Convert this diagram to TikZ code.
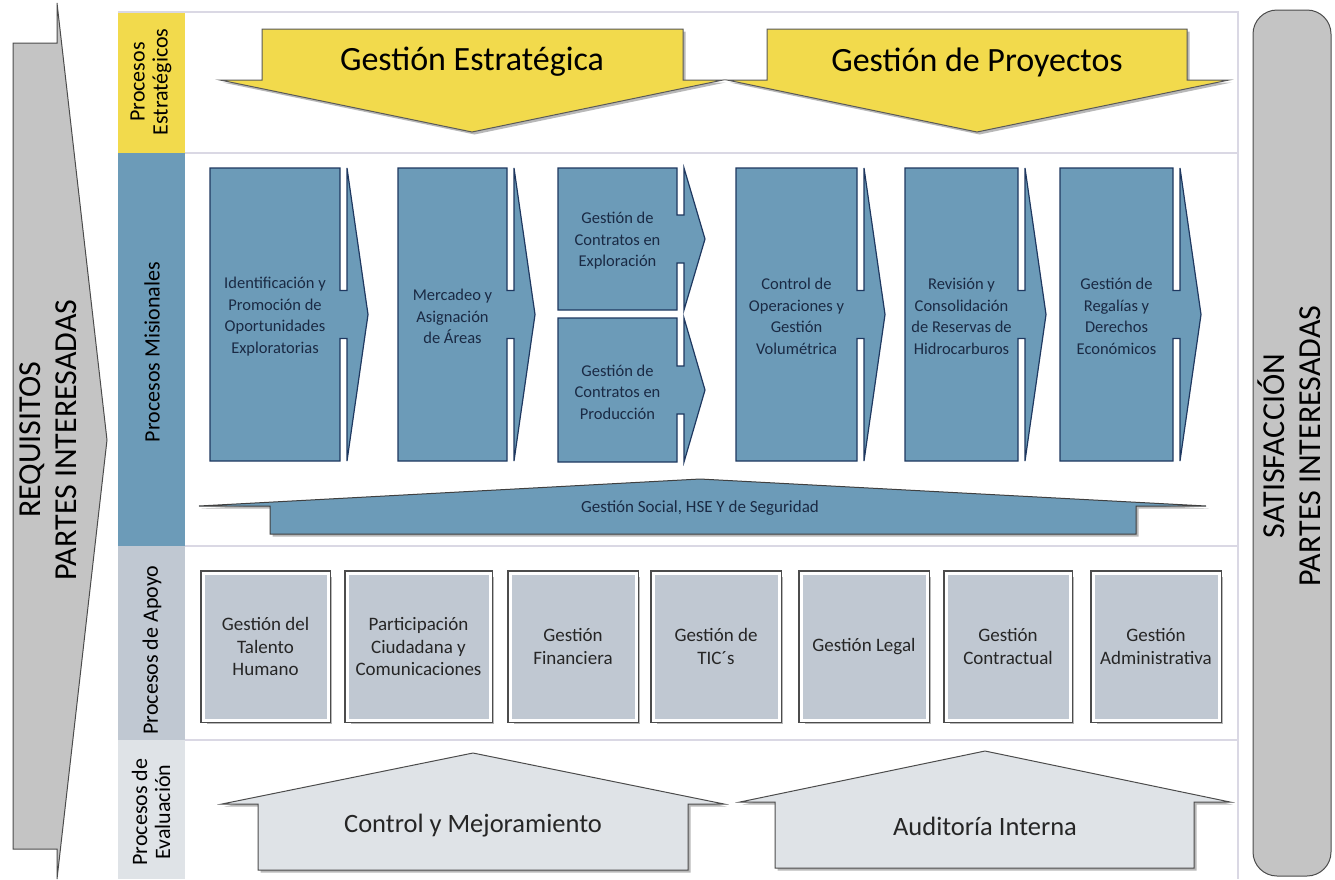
\documentclass[tikz,border=0pt]{standalone}
\usepackage{fontspec}
\setmainfont{Carlito}

\definecolor{estraYellow}{RGB}{242,218,76}
\definecolor{misionBlue}{RGB}{108,155,184}
\definecolor{misionLine}{RGB}{31,56,96}
\definecolor{misionText}{RGB}{26,42,68}
\definecolor{apoyoGray}{RGB}{192,200,210}
\definecolor{evalGray}{RGB}{223,227,231}
\definecolor{laneLine}{RGB}{218,216,228}
\definecolor{sideGray}{RGB}{196,196,196}

% name, left x, right x, top y, bottom y, text
\newcommand{\misarrow}[6]{%
  \draw[mision box] (#2,#4) -- (#3,#4) -- (#3,{(#4+#5)/2-24}) -- ({#3+7},{(#4+#5)/2-24})
    -- ({#3+7},#4) -- ({#3+28},{(#4+#5)/2}) -- ({#3+7},#5) -- ({#3+7},{(#4+#5)/2+24})
    -- (#3,{(#4+#5)/2+24}) -- (#3,#5) -- (#2,#5) -- cycle;
  \node[mision text] (#1) at ({(#2+#3)/2},{(#4+#5)/2+2}) {#6};
}

\begin{document}
\begin{tikzpicture}[x=1pt,y=-1pt,
	soft shade/.style={preaction={fill=black, opacity=.28, transform canvas={xshift=#1, yshift=-#1}}},
	lane label/.style={rotate=90, align=center, font=\fontsize{22}{23}\selectfont},
	side text/.style={rotate=90, align=center, font=\fontsize{32}{36}\selectfont},
	side shape/.style={fill=sideGray, draw=black!70, line width=1pt},
	estra arrow/.style={soft shade=2.5pt, fill=estraYellow, draw=black!65, line width=1pt},
	estra text/.style={font=\fontsize{34}{40}\selectfont},
	mision box/.style={fill=misionBlue, draw=misionLine, line width=1.2pt, line join=miter},
	mision text/.style={align=center, text=misionText, font=\fontsize{16.5}{21.5}\selectfont},
	social arrow/.style={soft shade=2.5pt, fill=misionBlue, draw=black!75, line width=1pt},
	apoyo box/.style={soft shade=4pt, preaction={draw=black!70, line width=6pt},
		fill=apoyoGray, draw=white, line width=3pt, inner sep=0pt,
		align=center, text=black!85, font=\fontsize{19}{22.5}\selectfont},
	eval arrow/.style={soft shade=2.5pt, fill=evalGray, draw=black!70, line width=1pt},
	eval text/.style={font=\fontsize{26.5}{30}\selectfont, text=black!85}]

	\useasboundingbox (0,0) rectangle (1335,879);

	% side arrows
	\draw[side shape] (13,43) -- (57,43) -- (57,3) -- (107,440) -- (57,879) -- (57,849) -- (13,849) -- cycle;
	\node[side text] (req) at (48,440) {REQUISITOS\\PARTES INTERESADAS};
	\draw[side shape, rounded corners=24pt] (1253,10) rectangle (1331,876);
	\node[side text] (sat) at (1289,446) {SATISFACCIÓN\\PARTES INTERESADAS};

	% lanes
	\fill[estraYellow] (118,12) rectangle (185,153);
	\fill[misionBlue] (118,153) rectangle (185,546);
	\fill[apoyoGray] (118,546) rectangle (185,740);
	\fill[evalGray] (118,740) rectangle (185,879);
	\draw[laneLine, line width=1.5pt] (118,12) -- (1238,12) -- (1238,879);
	\draw[laneLine, line width=1.5pt] (185,153) -- (1238,153) (185,546) -- (1238,546) (185,740) -- (1238,740);
	\node[lane label] (lEst) at (151,82) {Procesos\\Estratégicos};
	\node[lane label] (lMis) at (152,352) {Procesos Misionales};
	\node[lane label] (lApo) at (152,650) {Procesos de Apoyo};
	\node[lane label] (lEva) at (151,812) {Procesos de\\Evaluación};

	% estrategicos
	\draw[estra arrow] (262,29) -- (683,29) -- (683,80) -- (723,80) -- (472,132) -- (220,80) -- (262,80) -- cycle;
	\node[estra text] (gest) at (472,62) {Gestión Estratégica};
	\draw[estra arrow] (767,29) -- (1187,29) -- (1187,80) -- (1229,80) -- (977,132) -- (727,80) -- (767,80) -- cycle;
	\node[estra text] (gpro) at (977,62) {Gestión de Proyectos};

	% misionales
	\misarrow{m1}{210}{340}{168}{461}{Identificación y\\Promoción de\\Oportunidades\\Exploratorias}
	\misarrow{m2}{398}{507}{168}{461}{Mercadeo y\\Asignación\\de Áreas}
	\misarrow{m3}{558}{677}{168}{310}{Gestión de\\Contratos en\\Exploración}
	\misarrow{m4}{558}{677}{318}{462}{Gestión de\\Contratos en\\Producción}
	\misarrow{m5}{736}{857}{168}{461}{Control de\\Operaciones y\\Gestión\\Volumétrica}
	\misarrow{m6}{905}{1018}{168}{461}{Revisión y\\Consolidación\\de Reservas de\\Hidrocarburos}
	\misarrow{m7}{1060}{1173}{168}{461}{Gestión de\\Regalías y\\Derechos\\Económicos}

	\draw[social arrow] (270,534) -- (270,506) -- (199,506) -- (700,479) -- (1206,506) -- (1136,506) -- (1136,534) -- cycle;
	\node[mision text, font=\fontsize{17}{20}\selectfont] (social) at (700,508) {Gestión Social, HSE Y de Seguridad};

	% apoyo
	\foreach \nm/\cx/\w/\txt in {ap1/265.5/131/{Gestión del\\Talento\\Humano},
		ap2/418.5/149/{Participación\\Ciudadana y\\Comunicaciones},
		ap3/573/132/{Gestión\\Financiera}, ap4/716/132/{Gestión de\\TIC´s},
		ap5/864/132/{Gestión Legal}, ap6/1008/130/{Gestión\\Contractual},
		ap7/1156/132/{Gestión\\Administrativa}}
		\node[apoyo box, minimum width=\w-6, minimum height=147] (\nm) at (\cx,646.5) {\txt};

	% evaluacion
	\draw[eval arrow] (258,870) -- (258,804) -- (222,804) -- (473,753) -- (724,804) -- (688,804) -- (688,870) -- cycle;
	\node[eval text] (ctrl) at (473,826) {Control y Mejoramiento};
	\draw[eval arrow] (775,868) -- (775,802) -- (740,802) -- (985,751) -- (1230,802) -- (1194,802) -- (1194,868) -- cycle;
	\node[eval text] (audi) at (985,826) {Auditoría Interna};
\end{tikzpicture}
\end{document}
